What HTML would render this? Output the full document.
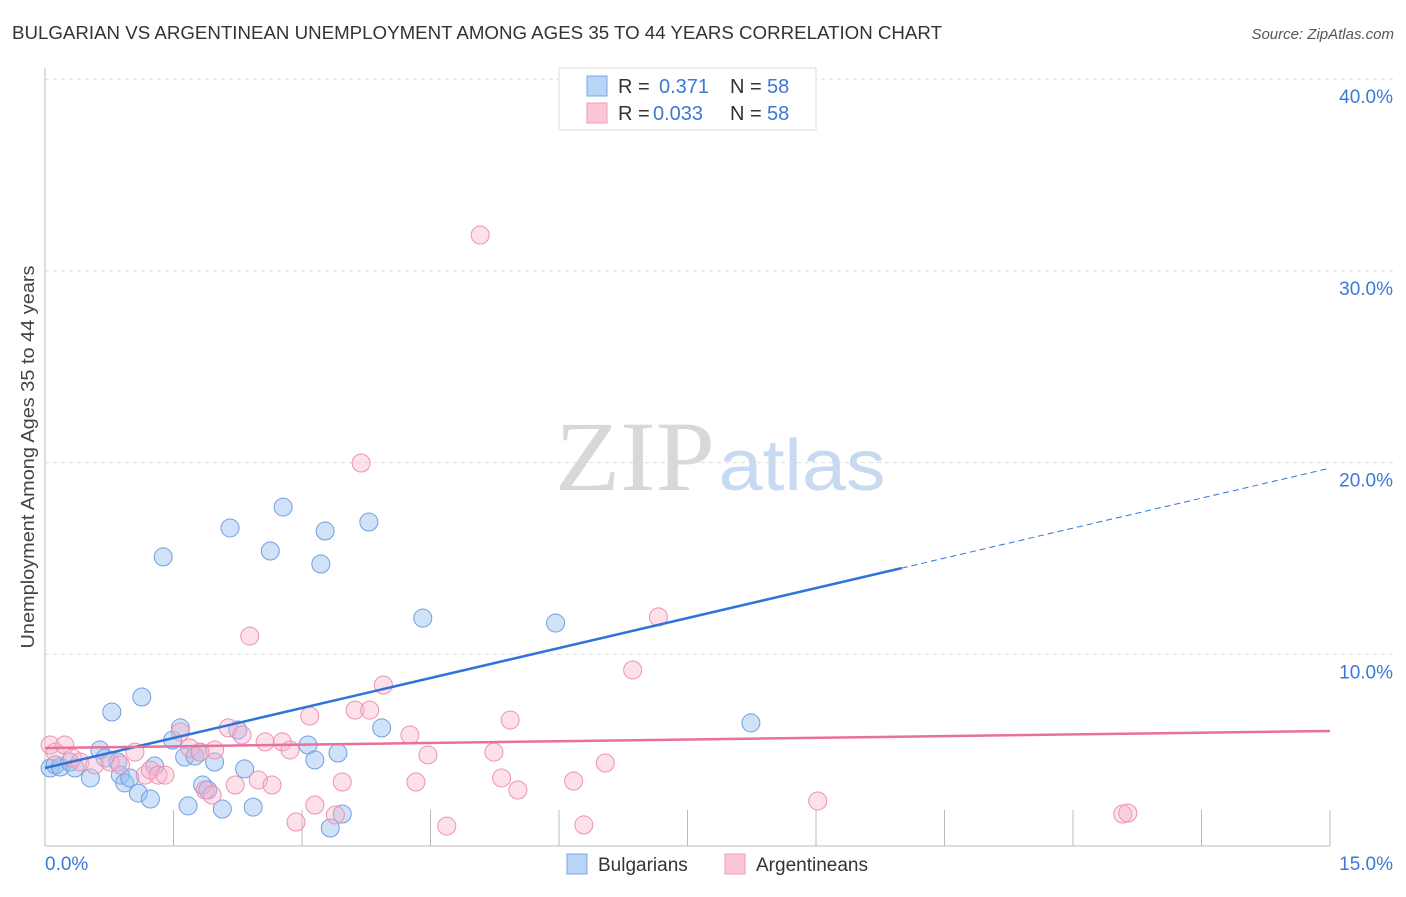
<!DOCTYPE html>
<html><head><meta charset="utf-8"><style>
body{margin:0;background:#fff;font-family:"Liberation Sans",sans-serif;}
</style></head><body>
<svg id="chart" width="1406" height="892" xmlns="http://www.w3.org/2000/svg" style="font-family:'Liberation Sans',sans-serif">
<text x="12" y="39" font-size="18" fill="#333" textLength="930" lengthAdjust="spacingAndGlyphs">BULGARIAN VS ARGENTINEAN UNEMPLOYMENT AMONG AGES 35 TO 44 YEARS CORRELATION CHART</text>
<text x="1394" y="39" font-size="15" fill="#555" font-style="italic" text-anchor="end">Source: ZipAtlas.com</text>
<text x="0" y="0" font-size="18" fill="#444" text-anchor="middle" textLength="383" lengthAdjust="spacingAndGlyphs" transform="translate(34,457) rotate(-90)">Unemployment Among Ages 35 to 44 years</text>
<g>
<text x="635" y="490" font-size="100" fill="#d8d8d8" font-family="Liberation Serif,serif" text-anchor="middle" textLength="160" lengthAdjust="spacingAndGlyphs">ZIP</text>
<text x="802" y="490" font-size="72" fill="#c8daf2" text-anchor="middle" textLength="167" lengthAdjust="spacingAndGlyphs">atlas</text>
</g>
<g id="grid"></g><g id="axes"></g><g id="pts"></g><g id="lines"></g>
<g>
<rect x="559" y="68" width="257" height="62" fill="#fff" stroke="#ddd"/>
<rect x="587" y="76" width="20" height="20" fill="#b8d4f6" stroke="#7aa8e6"/>
<text x="618" y="93" font-size="20" fill="#333">R = </text><text x="659" y="93" font-size="20" fill="#3b78d8">0.371</text>
<text x="730" y="93" font-size="20" fill="#333">N = </text><text x="767" y="93" font-size="20" fill="#3b78d8">58</text>
<rect x="587" y="103" width="20" height="20" fill="#fbc6d6" stroke="#f09ab6"/>
<text x="618" y="120" font-size="20" fill="#333">R = </text><text x="653" y="120" font-size="20" fill="#3b78d8">0.033</text>
<text x="730" y="120" font-size="20" fill="#333">N = </text><text x="767" y="120" font-size="20" fill="#3b78d8">58</text>
</g>
<g>
<rect x="567" y="854" width="20" height="20" fill="#b8d4f6" stroke="#7aa8e6"/>
<text x="598" y="871" font-size="19" fill="#333">Bulgarians</text>
<rect x="725" y="854" width="20" height="20" fill="#fbc6d6" stroke="#f09ab6"/>
<text x="756" y="871" font-size="19" fill="#333">Argentineans</text>
</g>
</svg>
<script>
const yTicks=[10,20,30,40];
const yTickLabels=["10.0%","20.0%","30.0%","40.0%"];
const xTickLabels=["0.0%","15.0%"];
const blueX=[0.06,0.12,0.18,0.29,0.35,0.53,0.64,0.70,0.78,0.85,0.88,0.93,0.99,1.09,1.13,1.23,1.28,1.38,1.49,1.58,1.63,1.67,1.75,1.81,1.84,1.90,1.98,2.07,2.16,2.25,2.33,2.43,2.63,2.78,3.07,3.15,3.22,3.27,3.33,3.42,3.47,3.78,3.93,4.41,5.96,8.24];
const blueY=[4.07,4.23,4.12,4.38,4.07,3.55,5.01,4.59,6.99,4.38,3.70,3.29,3.55,2.76,7.77,2.45,4.17,15.08,5.53,6.16,4.64,2.09,4.69,4.90,3.18,2.92,4.38,1.93,16.59,6.05,4.02,2.03,15.39,17.68,5.27,4.49,14.71,16.43,0.94,4.85,1.67,16.90,6.16,11.89,11.63,6.42];
const pinkX=[0.06,0.12,0.23,0.32,0.41,0.58,0.76,0.88,1.05,1.17,1.23,1.32,1.40,1.58,1.69,1.81,1.87,1.95,1.98,2.14,2.22,2.30,2.39,2.49,2.57,2.65,2.77,2.86,2.93,3.09,3.15,3.39,3.47,3.62,3.69,3.79,3.95,4.26,4.33,4.47,4.69,5.08,5.24,5.33,5.43,5.52,6.17,6.29,6.54,6.86,7.16,9.02,12.58,12.64];
const pinkY=[5.27,4.90,5.27,4.59,4.38,4.23,4.38,4.23,4.90,3.70,3.96,3.70,3.70,5.95,5.11,4.90,2.92,2.66,5.01,6.16,3.18,5.79,10.95,3.44,5.43,3.18,5.43,5.01,1.25,6.78,2.14,1.62,3.34,7.09,19.98,7.09,8.40,5.79,3.34,4.75,1.04,31.87,4.90,3.55,6.57,2.92,3.39,1.10,4.33,9.18,11.95,2.35,1.67,1.72];
const blueTrend=[4.07,19.71];
const pinkTrend=[5.11,6.0];
const NS="http://www.w3.org/2000/svg";
const X0=45,X1=1330,Y0=846,PY=19.17;
const sx=v=>X0+(X1-X0)*v/15;
const sy=v=>Y0-v*PY;
function mk(tag,attrs,parent){const e=document.createElementNS(NS,tag);for(const k in attrs)e.setAttribute(k,attrs[k]);document.getElementById(parent).appendChild(e);return e;}
yTicks.forEach((t,i)=>{
 const l=mk('line',{x1:X0,x2:1394,y1:sy(t),y2:sy(t),stroke:'#ddd','stroke-dasharray':'4,4'},'grid');
 
 
 const tx=mk('text',{x:1393,y:sy(t)+24,'font-size':19,fill:'#3b78d8','text-anchor':'end'},'grid');
 tx.textContent=yTickLabels[i];
 
 
});
mk('line',{x1:X0,x2:X0,y1:68,y2:Y0,stroke:'#bbb'},'axes');
mk('line',{x1:X0,x2:X1,y1:Y0,y2:Y0,stroke:'#bbb'},'axes');
for(let i=0;i<=10;i++){const x=sx(i*1.5);mk('line',{x1:x,x2:x,y1:810,y2:Y0,stroke:'#bbb'},'axes');}
const xl0=mk('text',{x:45,y:870,'font-size':19,fill:'#3b78d8'},'axes');xl0.textContent=xTickLabels[0];


const xl1=mk('text',{x:1393,y:870,'font-size':19,fill:'#3b78d8','text-anchor':'end'},'axes');xl1.textContent=xTickLabels[1];


blueX.forEach((v,i)=>{const c=mk('circle',{cx:sx(v),cy:sy(blueY[i]),r:9,fill:'rgba(150,190,240,0.45)',stroke:'#6fa0e0','stroke-width':1},'pts');
 
 });
pinkX.forEach((v,i)=>{const c=mk('circle',{cx:sx(v),cy:sy(pinkY[i]),r:9,fill:'rgba(248,180,204,0.4)',stroke:'#f090b0','stroke-width':1},'pts');
 
 });
const bAt=x=>blueTrend[0]+(blueTrend[1]-blueTrend[0])*x/15;
const b1=mk('line',{x1:sx(0),y1:sy(bAt(0)),x2:sx(10),y2:sy(bAt(10)),stroke:'#2f74d8','stroke-width':2.5},'lines');


const b2=mk('line',{x1:sx(10),y1:sy(bAt(10)),x2:sx(15),y2:sy(bAt(15)),stroke:'#2f74d8','stroke-width':1,'stroke-dasharray':'6,4'},'lines');


const p1=mk('line',{x1:sx(0),y1:sy(pinkTrend[0]),x2:sx(15),y2:sy(pinkTrend[1]),stroke:'#e8709a','stroke-width':2.5},'lines');


</script>
</body></html>
